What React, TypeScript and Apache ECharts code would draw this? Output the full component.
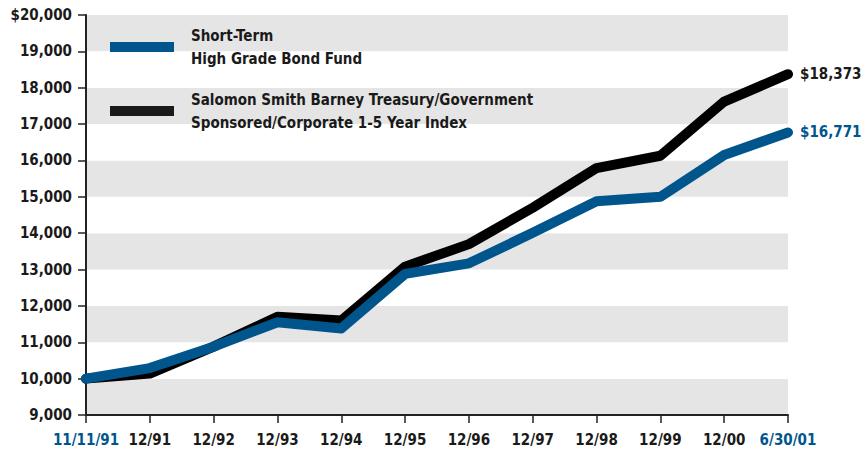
import React, { useEffect, useRef } from "react";
import * as echarts from "echarts";

const categories = ["11/11/91", "12/91", "12/92", "12/93", "12/94", "12/95", "12/96", "12/97", "12/98", "12/99", "12/00", "6/30/01"];
const fundName = "Short-Term\nHigh Grade Bond Fund";
const indexName = "Salomon Smith Barney Treasury/Government\nSponsored/Corporate 1-5 Year Index";
const fundValues = [10000, 10290, 10880, 11550, 11380, 12880, 13170, 14010, 14880, 15000, 16150, 16771];
const indexValues = [10000, 10140, 10880, 11700, 11600, 13080, 13700, 14700, 15790, 16130, 17620, 18373];
const highlighted = ["11/11/91", "6/30/01"];

const FONT = "'DejaVu Sans Condensed', 'Liberation Sans Narrow', sans-serif";
const BLUE = "#00568C";
const DARK = "#1a1a1a";
const FS = 15;

export default function App() {
  const ref = useRef<HTMLDivElement>(null);
  useEffect(() => {
    if (!ref.current) return;
    const chart = echarts.init(ref.current, undefined, { renderer: "svg" });
    const money = (p: any) => "$" + Number(p.value).toLocaleString("en-US");
    chart.setOption({
      animation: false,
      textStyle: { fontFamily: FONT },
      grid: { left: 86, right: 80, top: 15, bottom: 40, containLabel: false },
      legend: {
        orient: "vertical",
        left: 105,
        top: 19,
        itemWidth: 64,
        itemHeight: 10,
        itemGap: 18,
        icon: "rect",
        data: [fundName, indexName],
        textStyle: { fontFamily: FONT, fontWeight: "bold", fontSize: FS, lineHeight: 23, color: DARK, padding: [0, 0, 0, 12] },
      },
      xAxis: {
        type: "category",
        data: categories,
        boundaryGap: false,
        axisLine: { lineStyle: { color: "#222", width: 2 } },
        axisTick: { alignWithLabel: true, length: 8, lineStyle: { color: "#222", width: 1.5 } },
        axisLabel: {
          margin: 17,
          fontFamily: FONT,
          fontWeight: "bold",
          fontSize: FS,
          color: (v: string) => (highlighted.includes(v) ? BLUE : DARK),
          interval: 0,
        },
      },
      yAxis: {
        type: "value",
        min: 9000,
        max: 20000,
        interval: 1000,
        axisLine: { show: true, lineStyle: { color: "#222", width: 2 } },
        axisTick: { show: true, length: 8, lineStyle: { color: "#222", width: 1.5 } },
        splitLine: { show: false },
        splitArea: { show: true, areaStyle: { color: ["#e5e5e5", "#ffffff"] } },
        axisLabel: {
          margin: 14,
          fontFamily: FONT,
          fontWeight: "bold",
          fontSize: FS,
          color: DARK,
          formatter: (v: number) => {
            const s = v.toLocaleString("en-US");
            return v === 20000 ? "$" + s : s;
          },
        },
      },
      series: [
        {
          name: indexName,
          type: "line",
          data: indexValues,
          symbol: "none",
          color: DARK,
          lineStyle: { width: 10, color: "#000", cap: "round", join: "round" },
          endLabel: { show: true, distance: 12, fontFamily: FONT, fontWeight: "bold", fontSize: FS, color: DARK, formatter: money },
        },
        {
          name: fundName,
          type: "line",
          data: fundValues,
          symbol: "none",
          color: BLUE,
          lineStyle: { width: 10, color: BLUE, cap: "round", join: "round" },
          endLabel: { show: true, distance: 12, fontFamily: FONT, fontWeight: "bold", fontSize: FS, color: BLUE, formatter: money },
        },
      ],
    });
    return () => chart.dispose();
  }, []);
  return <div ref={ref} style={{ width: 868, height: 455, position: "absolute", left: 0, top: 0 }} />;
}
